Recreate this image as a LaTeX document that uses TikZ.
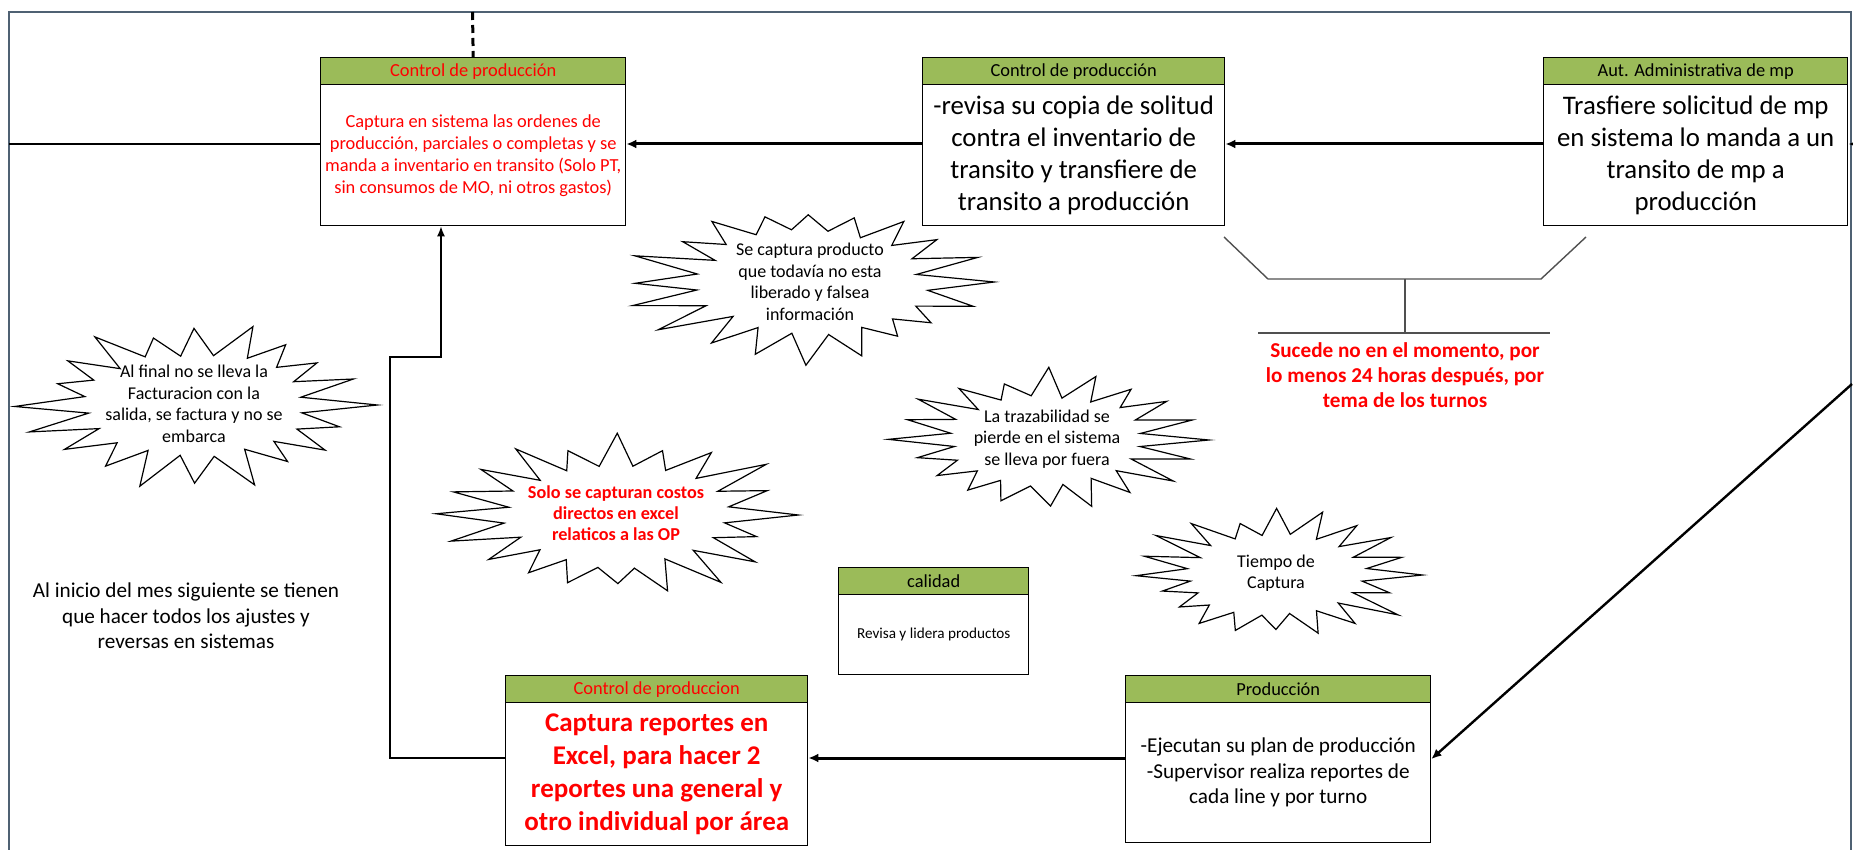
\documentclass[tikz,border=0pt]{standalone}
\usepackage{fontspec}
\setmainfont{Carlito}
\usetikzlibrary{arrows.meta}
\definecolor{hdrgreen}{HTML}{9BBB59}
\definecolor{framecol}{HTML}{4F6173}
\definecolor{txtred}{HTML}{FF0000}
\definecolor{brk}{HTML}{505050}
% burst outline: centre x, centre y, radius x, radius y, seed
\newcommand\mkburst[5]{%
  \pgfmathsetseed{#5}%
  \draw[burstline] ({#1+0.97*#3},{#2})
    \foreach \i [evaluate=\i as \ang using {\i*9+ifthenelse(mod(\i,2)==0, 3*(rnd-0.5), 0)},
                 evaluate=\i as \rr using {ifthenelse(mod(\i,2)==0, 0.78+0.22*rnd, 0.56+0.07*rnd)}] in {1,...,39}
    { -- ({#1+#3*\rr*cos(\ang)},{#2+#4*\rr*sin(\ang)}) } -- cycle;}
\begin{document}
\begin{tikzpicture}[x=0.5pt,y=-0.5pt,
  hdr/.style={draw=black, line width=0.7pt, fill=hdrgreen, anchor=north west, minimum height=13.5pt, inner sep=0pt, font=\fontsize{9.2}{11}\selectfont},
  bodybox/.style={draw=black, line width=0.7pt, fill=white, anchor=north west, inner sep=0pt, align=center},
  burstline/.style={draw=black, line width=0.6pt, fill=white, line join=miter, miter limit=20},
  bursttext/.style={align=center, inner sep=0pt, font=\fontsize{9}{10.8}\selectfont},
  heavyarrow/.style={line width=1.5pt, -{Latex[length=5pt,width=4.5pt]}},
  thinarrow/.style={line width=0.7pt, -{Latex[length=5pt,width=4pt]}},
  diagarrow/.style={line width=1.2pt, -{Latex[length=5pt,width=4.5pt]}},
  thinline/.style={line width=0.6pt},
  brkline/.style={draw=brk, line width=0.7pt}
]
\clip (0,0) rectangle (1853,850);

% bursts (outlines)
\mkburst{810}{282}{190}{85}{3}
\mkburst{197}{405}{186}{88}{7}
\mkburst{616}{515}{188}{86}{11}
\mkburst{1047}{440}{167}{74}{5}
\mkburst{1276}{575}{151}{68}{9}

% frame
\draw[framecol, line width=1pt] (9,880) -- (9,12) -- (1851,12) -- (1851,880);

% Box A
\node[hdr, minimum width=152.5pt, text=txtred] (At) at (320,57) {Control de producción};
\node[bodybox, minimum width=152.5pt, minimum height=70.5pt, text=txtred, font=\fontsize{9.2}{11}\selectfont] (Ab) at (320,84)
 {Captura en sistema las ordenes de\\producción, parciales o completas y se\\manda a inventario en transito (Solo PT,\\sin consumos de MO, ni otros gastos)};
% Box B
\node[hdr, minimum width=151pt] (Bt) at (922,57) {Control de producción};
\node[bodybox, minimum width=151pt, minimum height=70.5pt, font=\fontsize{13.4}{15.9}\selectfont] (Bb) at (922,84)
 {-revisa su copia de solitud\\contra el inventario de\\transito y transfiere de\\transito a producción};
% Box C
\node[hdr, minimum width=152pt] (Ct) at (1543,57) {Aut. Administrativa de mp};
\node[bodybox, minimum width=152pt, minimum height=70.5pt, font=\fontsize{13.4}{15.9}\selectfont] (Cb) at (1543,84)
 {Trasfiere solicitud de mp\\en sistema lo manda a un\\transito de mp a\\producción};
% Box D
\node[hdr, minimum width=151pt, text=txtred] (Dt) at (505,675) {Control de produccion};
\node[bodybox, minimum width=151pt, minimum height=71.5pt, text=txtred, font=\bfseries\fontsize{13.5}{16.5}\selectfont] (Db) at (505,702)
 {Captura reportes en\\Excel, para hacer 2\\reportes una general y\\otro individual por área};
% Box E
\node[hdr, minimum width=152.5pt] (Et) at (1125,675) {Producción};
\node[bodybox, minimum width=152.5pt, minimum height=70pt, font=\fontsize{10.6}{12.75}\selectfont] (Eb) at (1125,702)
 {-Ejecutan su plan de producción\\-Supervisor realiza reportes de\\cada line y por turno};
% Box calidad
\node[hdr, minimum width=95pt] (Qt) at (838,567) {calidad};
\node[bodybox, minimum width=95pt, minimum height=40pt, font=\fontsize{7.6}{9}\selectfont] (Qb) at (838,594)
 {Revisa y lidera productos};

% connectors
\coordinate (yA) at (0,144);
\coordinate (fl) at (9,144);
\coordinate (cin) at (1890,144);
\draw[thinline] (fl) -- (Ab.west |- yA);
\draw[heavyarrow] (Bb.west |- yA) -- (Ab.east |- yA);
\draw[heavyarrow] (Cb.west |- yA) -- (Bb.east |- yA);
\draw[heavyarrow] (cin) -- (Cb.east |- yA);

\coordinate (yD) at (0,758);
\draw[heavyarrow] (Eb.west |- yD) -- (Db.east |- yD);
\coordinate (j1) at (390,758);
\coordinate (j2) at (390,357);
\coordinate (j3) at (441,357);
\draw[thinarrow] (Db.west |- yD) -- (j1) -- (j2) -- (j3) -- (j3 |- Ab.south);

\coordinate (dtop) at (472.5,12);
\draw[line width=1.5pt, dash pattern=on 4pt off 2.5pt] (dtop) -- (At.north);

\coordinate (dg) at (1852,384);
\coordinate (yE) at (0,759);
\draw[diagarrow] (dg) -- (Eb.east |- yE);

% bracket
\draw[brkline] (1224,237) -- (1268,279) -- (1541,279) -- (1586,237);
\draw[brkline] (1405,279) -- (1405,333);
\draw[brkline] (1258,333) -- (1550,333);
\node[text=txtred, align=center, font=\bfseries\fontsize{10.6}{12.5}\selectfont] (note) at (1405,375)
 {Sucede no en el momento, por\\lo menos 24 horas después, por\\tema de los turnos};

% left text
\node[align=center, font=\fontsize{10.6}{12.75}\selectfont] (inicio) at (186,616)
 {Al inicio del mes siguiente se tienen\\que hacer todos los ajustes y\\reversas en sistemas};

% burst texts
\node[bursttext] (S1) at (810,282)
 {Se captura producto\\que todavía no esta\\liberado y falsea\\información};
\node[bursttext] (S2) at (194,404)
 {Al final no se lleva la\\Facturacion con la\\salida, se factura y no se\\embarca};
\node[bursttext, text=txtred, font=\bfseries\fontsize{9.1}{10.4}\selectfont] (S3) at (616,513)
 {Solo se capturan costos\\directos en excel\\relaticos a las OP};
\node[bursttext] (S4) at (1047,439)
 {La trazabilidad se\\pierde en el sistema\\se lleva por fuera};
\node[bursttext] (S5) at (1276,573)
 {Tiempo de\\Captura};
\end{tikzpicture}
\end{document}
